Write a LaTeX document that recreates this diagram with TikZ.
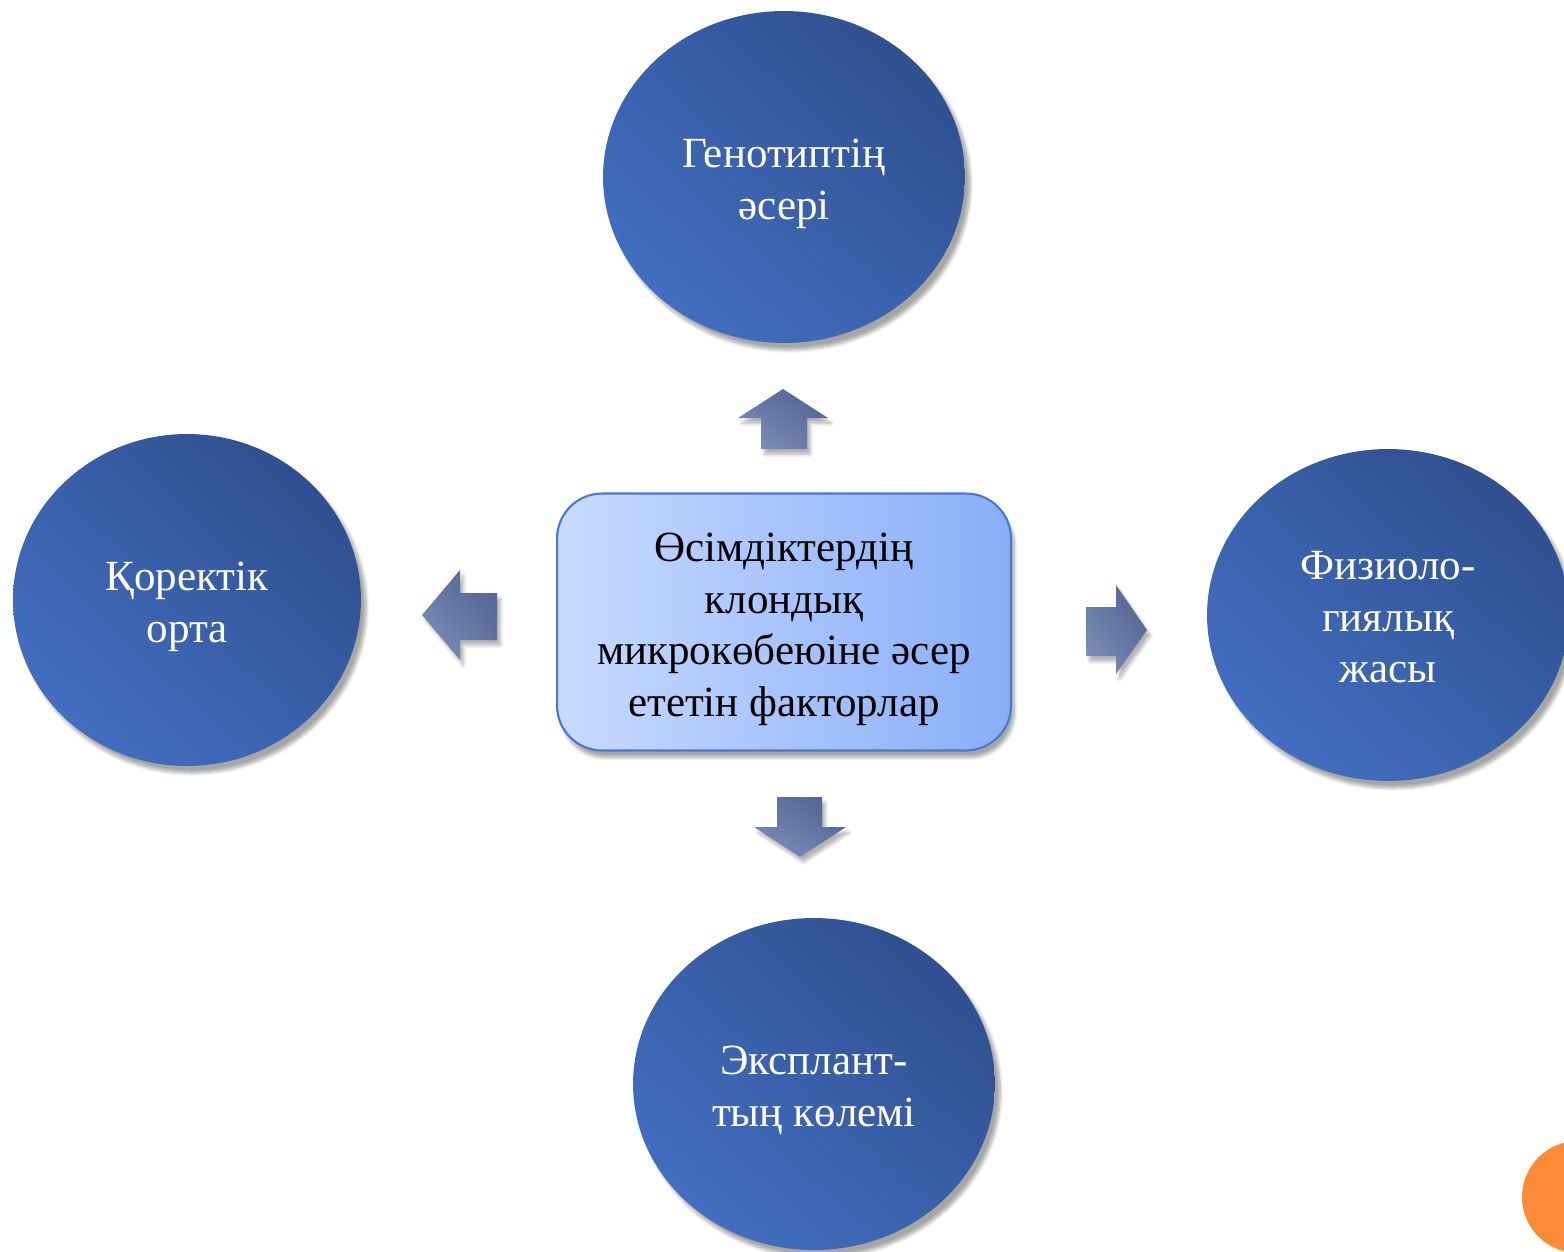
\documentclass[tikz,border=0pt]{standalone}
\usepackage{fontspec}
\setmainfont{Liberation Serif}
\usetikzlibrary{shapes.geometric,shadows.blur,shadings}
\definecolor{cdark}{HTML}{2C4984}
\definecolor{cmid}{HTML}{3960AA}
\definecolor{clight}{HTML}{4674C9}
\definecolor{adark}{HTML}{4E5E8D}
\definecolor{amid}{HTML}{6677A5}
\definecolor{alight}{HTML}{8193BE}
\definecolor{bleft}{HTML}{C8DAFF}
\definecolor{bright}{HTML}{88AEF8}
\definecolor{bborder}{HTML}{4A78CC}
\definecolor{orng}{HTML}{FD8A39}
\tikzset{
  factor/.style={ellipse, minimum width=7.24cm, minimum height=6.64cm, inner sep=0pt,
    text=white, align=center, font=\fontsize{24.5}{29.3}\selectfont,
    lower left=clight, upper right=cdark, upper left=cmid, lower right=cmid,
    blur shadow={shadow xshift=3pt, shadow yshift=-4pt, shadow blur steps=8, shadow opacity=35}},
  centerbox/.style={rectangle, rounded corners=0.9cm, minimum width=9.08cm, minimum height=5.14cm,
    draw=bborder, line width=1.2pt, left color=bleft, right color=bright, align=center,
    font=\fontsize{24.5}{29.3}\selectfont,
    blur shadow={shadow xshift=2pt, shadow yshift=-4pt, shadow blur steps=8, shadow opacity=35}},
  arrowshape/.style={lower left=alight, upper right=adark, upper left=amid, lower right=amid,
    blur shadow={shadow xshift=2pt, shadow yshift=-3pt, shadow blur steps=6, shadow opacity=30}}
}
\newcommand{\dn}[2][0.12cm]{\raisebox{-#1}[\height][\depth]{\begin{tabular}{@{}c@{}}#2\end{tabular}}}
\begin{document}
\begin{tikzpicture}[x=0.02cm,y=-0.02cm]
\useasboundingbox (0,0) rectangle (1564,1251);
% nodes
\node[centerbox] (center) at (784,622) {\dn[0.13cm]{Өсімдіктердің\\клондық\\микрокөбеюіне әсер\\ететін факторлар}};
\node[factor] (top) at (784,177) {\dn{Генотиптің\\әсері}};
\node[factor, minimum width=6.96cm] (left) at (187,600) {\dn{Қоректік\\орта}};
\node[factor] (right) at (1388,615) {\dn{Физиоло-\\гиялық\\жасы}};
\node[factor] (bottom) at (814,1084) {\dn{Эксплант-\\тың көлемі}};
% arrows
\path[arrowshape] (738,418) -- (783,389) -- (828,418) -- (807,418) -- (807,449) -- (761,449) -- (761,418) -- cycle;
\path[arrowshape] (422,615) -- (460,570) -- (460,593) -- (497,593) -- (497,640) -- (460,640) -- (460,660) -- cycle;
\path[arrowshape] (1147,630) -- (1116,585) -- (1116,607) -- (1086,607) -- (1086,656) -- (1116,656) -- (1116,674) -- cycle;
\path[arrowshape] (800,857) -- (754,827) -- (777,827) -- (777,797) -- (822,797) -- (822,827) -- (846,827) -- cycle;
% orange corner disc
\begin{scope}
\clip (0,0) rectangle (1564,1251);
\fill[orng] (1578,1197) circle[radius=1.12cm];
\end{scope}
\end{tikzpicture}
\end{document}
